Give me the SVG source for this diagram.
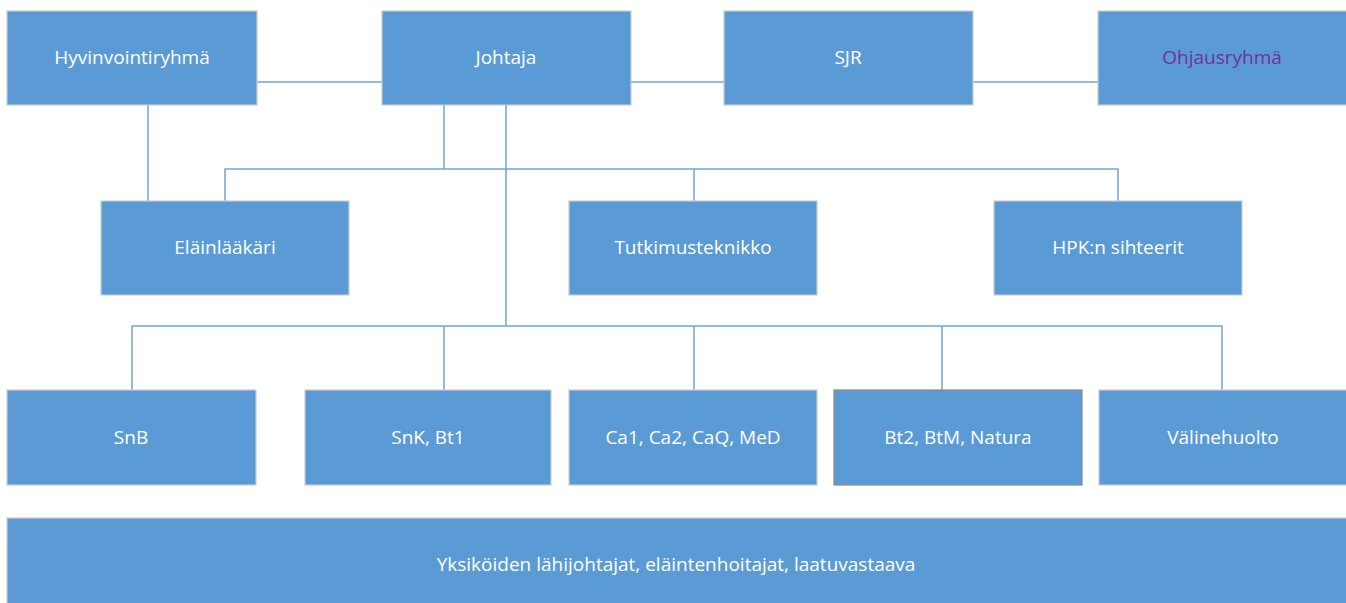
<svg xmlns="http://www.w3.org/2000/svg" width="1346" height="603" viewBox="0 0 1346 603">
<style>
.box{fill:#5b9bd5;stroke:#c8ccd0;stroke-width:1.2}
.dark{stroke:#8a8a8a}
.t{font-family:"Open Sans","Liberation Sans",sans-serif;font-size:19px;fill:#ffffff;text-anchor:middle}
.p{fill:#7030a0}
.c{stroke:#6fa5dc;stroke-width:1.5;fill:none}
</style>
<rect width="1346" height="603" fill="#ffffff"/>
<g id="connectors">
<path class="c" d="M257 82H382M631 82H724M973 82H1098"/>
<path class="c" d="M148 105V201"/>
<path class="c" d="M444 105V169M225 201V169H1118V201M694 169V201"/>
<path class="c" d="M506 105V326M132 390V326H1222V390M444 326V390M694 326V390M942 326V390"/>
</g>
<g id="hyvinvointiryhma"><rect class="box" x="7" y="11" width="250" height="94"/><text class="t" x="132" y="64">Hyvinvointiryhmä</text></g>
<g id="johtaja"><rect class="box" x="382" y="11" width="249" height="94"/><text class="t" x="506" y="64">Johtaja</text></g>
<g id="sjr"><rect class="box" x="724" y="11" width="249" height="94"/><text class="t" x="848" y="64">SJR</text></g>
<g id="ohjausryhma"><rect class="box" x="1098" y="11" width="250" height="94"/><text class="t p" x="1222" y="64">Ohjausryhmä</text></g>
<g id="elainlaakari"><rect class="box" x="101" y="201" width="248" height="94"/><text class="t" x="225" y="254">Eläinlääkäri</text></g>
<g id="tutkimusteknikko"><rect class="box" x="569" y="201" width="248" height="94"/><text class="t" x="693" y="254">Tutkimusteknikko</text></g>
<g id="hpk"><rect class="box" x="994" y="201" width="248" height="94"/><text class="t" x="1118" y="254">HPK:n sihteerit</text></g>
<g id="snb"><rect class="box" x="7" y="390" width="249" height="95"/><text class="t" x="131" y="444">SnB</text></g>
<g id="snk"><rect class="box" x="305" y="390" width="246" height="95"/><text class="t" x="428" y="444">SnK, Bt1</text></g>
<g id="ca"><rect class="box" x="569" y="390" width="248" height="95"/><text class="t" x="693" y="444">Ca1, Ca2, CaQ, MeD</text></g>
<g id="bt2"><rect class="box dark" x="834" y="390" width="248" height="95"/><text class="t" x="958" y="444">Bt2, BtM, Natura</text></g>
<g id="valinehuolto"><rect class="box" x="1099" y="390" width="249" height="95"/><text class="t" x="1223" y="444">Välinehuolto</text></g>
<g id="yksikot"><rect class="box" x="7" y="518" width="1341" height="90"/><text class="t" x="676" y="571">Yksiköiden lähijohtajat, eläintenhoitajat, laatuvastaava</text></g>
</svg>
